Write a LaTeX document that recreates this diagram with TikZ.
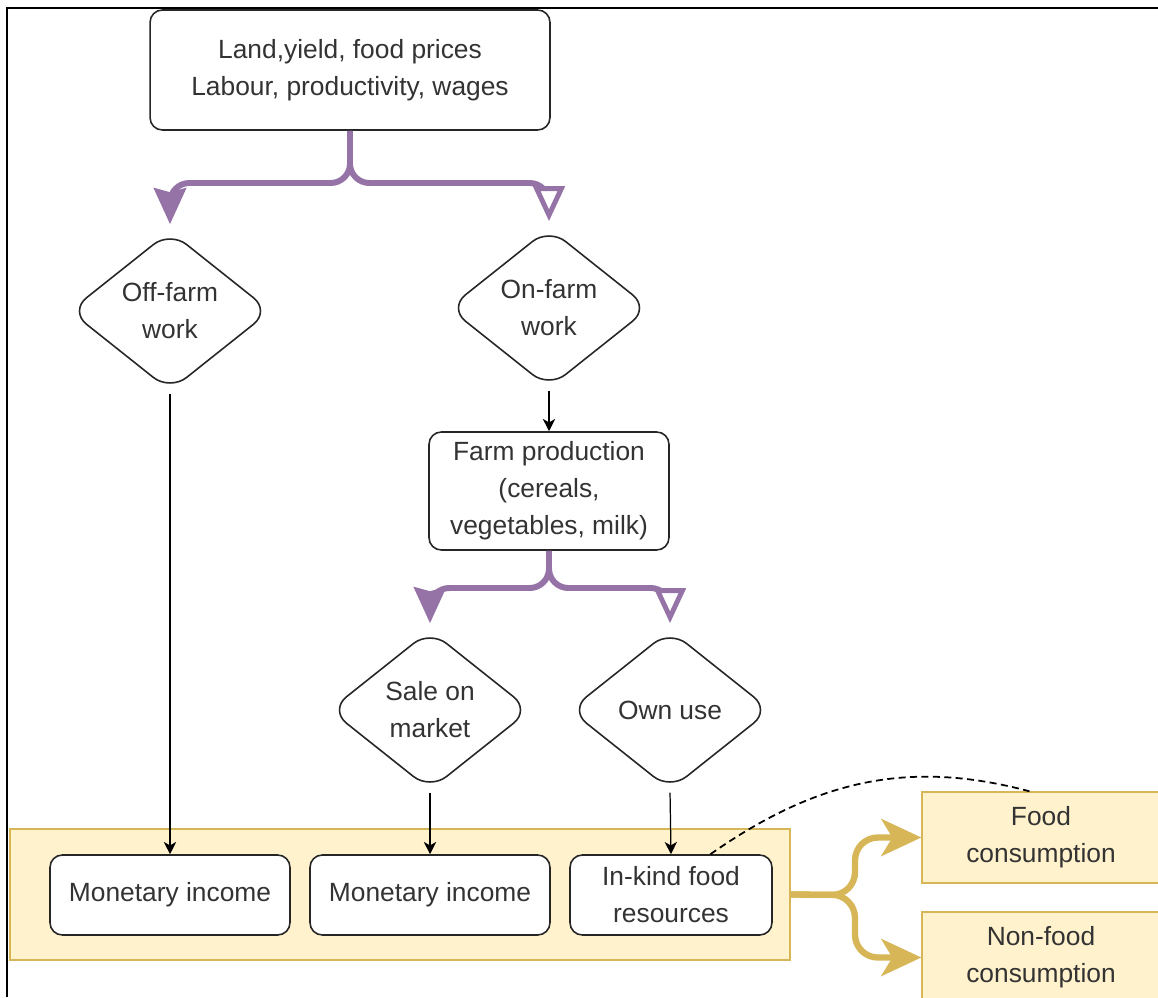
\documentclass[tikz,border=0pt]{standalone}
\usepackage{fontspec}
\setmainfont{Liberation Sans}
\usetikzlibrary{shapes.geometric,arrows.meta}
\definecolor{txtgray}{HTML}{333333}
\definecolor{plum}{HTML}{9673A6}
\definecolor{sandfill}{HTML}{FFF2CC}
\definecolor{sanddraw}{HTML}{D6B656}

\begin{document}
\begin{tikzpicture}[x=0.02cm,y=-0.02cm,
    font=\fontsize{15}{21}\selectfont,text=txtgray,
    box/.style={draw=black!85,line width=0.9pt,rounded corners=7pt,fill=white,align=center,inner sep=1pt},
    choice/.style={diamond,draw=black!85,line width=0.9pt,rounded corners=12pt,fill=white,align=center,
        minimum width=4.02cm,minimum height=3.2cm,inner sep=0pt},
    sandbox/.style={draw=sanddraw,fill=sandfill,line width=0.8pt,align=center},
    flow/.style={draw=black,line width=0.7pt,-{Stealth[length=7pt,width=7pt,inset=2pt]},shorten <=1pt},
    plink/.style={draw=plum,line width=3.4pt,rounded corners=11pt,shorten >=0.12cm},
    ylink/.style={draw=sanddraw,line width=3.6pt,rounded corners=13pt,
        -{Stealth[length=0.8cm,width=0.74cm,inset=0.22cm]}}]
    \useasboundingbox (0,0) rectangle (1158,997);
    \clip (0,0) rectangle (1158,997);
    % frame of the screenshot
    \draw[line width=1pt] (7,997) -- (7,8) -- (1158,8);
    % top
    \node[box,minimum width=8cm,minimum height=2.4cm] (land) at (350,70)
        {Land,yield, food prices\\Labour, productivity, wages};
    \node[choice] (off) at (170,311) {Off-farm\\work};
    \node[choice] (on) at (549,308) {On-farm\\work};
    \coordinate (psplit) at (350,183);
    \draw[plink,-{Stealth[length=0.72cm,width=0.64cm,inset=0.08cm]}] (land.south) -- (psplit) -| (off.north);
    \draw[plink,-{Triangle[fill=white,length=0.7cm,width=0.62cm,line width=2.8pt]}] (land.south) -- (psplit) -| (on.north);
    % farm production
    \node[box,minimum width=4.8cm,minimum height=2.36cm] (farm) at (549,491)
        {Farm production\\(cereals,\\vegetables, milk)};
    \draw[flow] (on.south) -- (farm.north);
    \node[choice] (sale) at (430,710) {Sale on\\market};
    \node[choice] (own) at (670,710) {Own use};
    \coordinate (fsplit) at (549,588);
    \draw[plink,-{Stealth[length=0.72cm,width=0.64cm,inset=0.08cm]}] (farm.south) -- (fsplit) -| (sale.north);
    \draw[plink,-{Triangle[fill=white,length=0.7cm,width=0.62cm,line width=2.8pt]}] (farm.south) -- (fsplit) -| (own.north);
    % income band
    \node[sandbox,minimum width=15.6cm,minimum height=2.62cm] (band) at (400,894.5) {};
    \node[box,minimum width=4.8cm,minimum height=1.6cm] (money1) at (170,895) {Monetary income};
    \node[box,minimum width=4.8cm,minimum height=1.6cm] (money2) at (430,895) {Monetary income};
    \node[box,minimum width=4.04cm,minimum height=1.6cm] (inkind) at (671,895) {In-kind food\\resources};
    \draw[flow] (off.south) -- (money1.north);
    \draw[flow] (sale.south) -- (money2.north);
    \draw[flow] (own.south) -- (inkind.north);
    % consumption
    \node[sandbox,minimum width=4.76cm,minimum height=1.82cm] (food) at (1041,837.5) {Food\\consumption};
    \node[sandbox,minimum width=4.76cm,minimum height=1.82cm] (nonfood) at (1041,957.5) {Non-food\\consumption};
    \coordinate (ysplit) at (855,895);
    \draw[ylink] (band.east) -- (ysplit) |- (food.west);
    \draw[ylink] (band.east) -- (ysplit) |- (nonfood.west);
    \draw[line width=1pt,dash pattern=on 4pt off 2.5pt] (inkind.46) to[out=35,in=165] (food.104);
\end{tikzpicture}
\end{document}
